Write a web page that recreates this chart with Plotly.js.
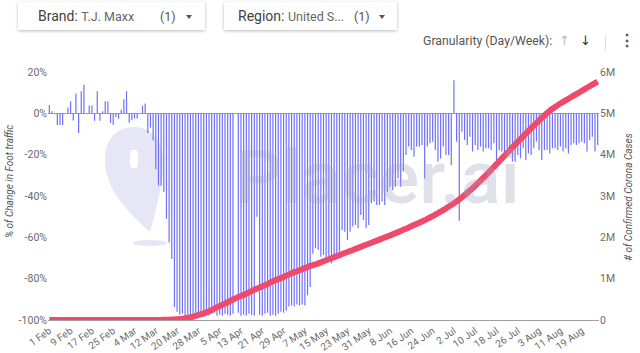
<!DOCTYPE html>
<html>
<head>
<meta charset="utf-8">
<script src="https://cdn.plot.ly/plotly-3.0.1.min.js"></script>
<style>
  html, body { margin:0; padding:0; background:#fff; width:640px; height:353px; overflow:hidden; font-family: Roboto, "Noto Sans", sans-serif; }
  #chart { position:absolute; left:0; top:0; width:640px; height:353px; }
  .box { position:absolute; top:2px; height:28px; background:#fff; box-shadow:0 1px 3px rgba(0,0,0,0.28); z-index:5; }
  .lbl { position:absolute; top:6px; font-size:14px; color:#424242; white-space:nowrap; }
  .lbl span { font-size:12.5px; color:#666; }
  .cnt { position:absolute; top:7px; font-size:12.5px; color:#555; }
  .tri { position:absolute; top:13px; width:0; height:0; border-left:3.5px solid transparent; border-right:3.5px solid transparent; border-top:4px solid #555; }
  .gran { position:absolute; top:34px; left:423px; font-size:12.3px; color:#555; z-index:5; white-space:nowrap; }
  .arr { position:absolute; top:33px; font-size:13px; font-family:"DejaVu Sans", sans-serif; z-index:5; }
  .sep { position:absolute; left:605px; top:35px; width:1px; height:16px; background:#ddd; z-index:5; }
  .dots { position:absolute; left:619px; top:31px; font-size:16px; font-weight:bold; color:#555; z-index:5; }
</style>
</head>
<body>
<div class="box" style="left:18px;width:187px;">
  <div class="lbl" style="left:20px;">Brand: <span>T.J. Maxx</span></div>
  <div class="cnt" style="left:142px;">(1)</div>
  <div class="tri" style="left:168px;"></div>
</div>
<div class="box" style="left:224px;width:173px;">
  <div class="lbl" style="left:14px;">Region: <span>United S...</span></div>
  <div class="cnt" style="left:130px;">(1)</div>
  <div class="tri" style="left:155px;"></div>
</div>
<div class="gran">Granularity (Day/Week):</div>
<div class="arr" style="left:559px;color:#bbb;">↑</div>
<div class="arr" style="left:580px;color:#333;">↓</div>
<div class="sep"></div>
<div class="dots">⋮</div>
<div id="chart"></div>
<script>
// ---- data ----
const startDate = '2020-02-01';

const footTrafficChange = [
  4, 1, 0, -5.6, -5.6, -5.6, 0, 2.8, 5.8, -3.5,
  9.6, -9.5, 10.7, 13.8, 0, 3.8, 3.8, -3.6, 10.7, -3.6,
  1, 5.8, 5.8, -4.6, -5.6, -1.8, -2.6, 1.8, 6.8, 10.7,
  -4.6, -3.4, -2.5, -2.5, 0, 3.8, 4.8, -9.5, -7, -13,
  -27, -35, -35, -38, -51, -62.5, -70.5, -93.7, -96, -97.5,
  -97, -98, -97.5, -98, -97, -96.5, -98, -97.5, -98.5, -97.5,
  -98, -97, -96.5, -98, -97.5, -98, -97, -97.5, -98, -97,
  null, -96.5, -98, -97.5, -98, -97, -97.5, -98, -50, -97.5,
  -98, -97, -96.5, -98, -97.5, -98, -97, -96, -96.5, -95.5,
  -93.5, -93, -93.5, -92.5, -93, -92.5, -93, -88, -84, -68,
  -65.3, -66, -69.4, -68.5, -71.8, -69.4, -72.6, -68.5, -67.7, -66.9,
  -56.5, -57.3, -61.3, -57.3, -54.8, -54, -55.6, -49.2, -51.6, -55.6,
  -54, -43.5, -42.7, -44.4, -44.4, -42.7, -44.4, -37.9, -35.5, -37.1,
  -35.5, -31.5, -35.5, -28.2, -20.2, -16.1, -17.7, -21, -16.1, -16.1,
  -15.3, -31.5, -16.1, -14.5, -13.7, -17.7, -23.4, -21.8, -16.1, -20.2,
  -20.2, -25, 16, -13.7, -52, -8.9, -12.9, -15.3, -11.3, -18.5,
  -15.3, -17.7, -16.1, -18.5, -16.9, -16.9, -17.7, -14.5, -22.6, -17.7,
  -18.5, -21, -16.9, -19.4, -23.4, -23.4, -20.2, -21.8, -16.9, -22.6,
  -19.4, -20.2, -16.9, -13.7, -17.7, -22.6, -17.7, -17.7, -19.4, -16.9,
  -16.9, -17.7, -16.1, -18.5, -16.9, -19.4, -15.3, -14.5, -15.3, -14.5,
  -13.7, -14.5, -18.5, -12.9, -11.3, -18.5, -15.3
];

const confirmedCases = [
  8, 8, 11, 11, 11, 12, 12, 12, 12, 12,
  12, 13, 13, 15, 15, 15, 15, 15, 15, 15,
  15, 15, 15, 35, 35, 53, 57, 60, 68, 75,
  100, 124, 158, 221, 319, 435, 541, 704, 994, 1301,
  1697, 2247, 2943, 3680, 4663, 6411, 9197, 13779, 19367, 25500,
  33300, 43800, 53700, 65800, 83800, 101700, 121500, 140900, 161800, 188200,
  213400, 243500, 275400, 308700, 336900, 366700, 396200, 429000, 461400, 496500,
  526400, 555300, 580600, 607700, 636400, 667800, 699700, 732200, 758800, 784300,
  811900, 840400, 869200, 905400, 938200, 965800, 988200, 1012600, 1039900, 1069400,
  1103500, 1132500, 1158300, 1180600, 1204400, 1228600, 1256900, 1283900, 1309500, 1329300,
  1345000, 1370000, 1395000, 1420000, 1445000, 1470000, 1495000, 1520000, 1545000, 1570000,
  1595000, 1620000, 1645000, 1670000, 1695000, 1720000, 1745000, 1770000, 1795000, 1820000,
  1845000, 1870000, 1895000, 1920000, 1945000, 1970000, 1995000, 2020000, 2046000, 2072000,
  2099000, 2126000, 2154000, 2182000, 2210000, 2239000, 2268000, 2297000, 2325000, 2354000,
  2384000, 2415000, 2447000, 2480000, 2514000, 2549000, 2585000, 2622000, 2660000, 2699000,
  2739000, 2781000, 2825000, 2871000, 2919000, 2969000, 3021000, 3075000, 3131000, 3189000,
  3249000, 3310000, 3372000, 3436000, 3501000, 3567000, 3634000, 3702000, 3770000, 3838000,
  3906000, 3974000, 4042000, 4110000, 4178000, 4245000, 4312000, 4378000, 4444000, 4509000,
  4574000, 4638000, 4702000, 4765000, 4827000, 4888000, 4948000, 5007000, 5061000, 5110000,
  5155000, 5197000, 5237000, 5276000, 5314000, 5352000, 5390000, 5428000, 5466000, 5504000,
  5542000, 5580000, 5618000, 5656000, 5694000, 5732000, 5770000
];

const tickDates = ['2020-02-01','2020-02-09','2020-02-17','2020-02-25','2020-03-04','2020-03-12','2020-03-20','2020-03-28',
  '2020-04-05','2020-04-13','2020-04-21','2020-04-29','2020-05-07','2020-05-15','2020-05-23','2020-05-31',
  '2020-06-08','2020-06-16','2020-06-24','2020-07-02','2020-07-10','2020-07-18','2020-07-26','2020-08-03','2020-08-11','2020-08-19'];
const tickLabels = ['1 Feb','9 Feb','17 Feb','25 Feb','4 Mar','12 Mar','20 Mar','28 Mar',
  '5 Apr','13 Apr','21 Apr','29 Apr','7 May','15 May','23 May','31 May',
  '8 Jun','16 Jun','24 Jun','2 Jul','10 Jul','18 Jul','26 Jul','3 Aug','11 Aug','19 Aug'];

const leftTickVals = [-100, -80, -60, -40, -20, 0, 20];
const leftTickText = ['-100%', '-80%', '-60%', '-40%', '-20%', '0%', '20%'];
const rightTickVals = [0, 1e6, 2e6, 3e6, 4e6, 5e6, 6e6];
const rightTickText = ['0', '1M', '2M', '3M', '4M', '5M', '6M'];

// consecutive day categories
const dates = [];
{
  const d0 = new Date(startDate + 'T00:00:00Z');
  for (let i = 0; i < footTrafficChange.length; i++) {
    const d = new Date(d0.getTime() + i * 86400000);
    dates.push(d.toISOString().slice(0, 10));
  }
}

// ---- decorative watermark (pixel -> paper) ----
const PL = 48, PR = 599, PT = 72, PB = 320;
function px(x) { return ((x - PL) / (PR - PL)).toFixed(4); }
function py(y) { return ((PB - y) / (PB - PT)).toFixed(4); }
function path(cmds) {
  return cmds.map(c => c[0] + ' ' + c.slice(1).map((v, k) => (k % 2 === 0 ? px(v) : py(v))).join(' ')).join(' ');
}
const pinPath = path([
  ['M', 150, 232],
  ['C', 128, 212, 105, 190, 105, 160],
  ['C', 105, 138, 118, 127, 134, 127],
  ['C', 151, 127, 163, 140, 163, 160],
  ['C', 163, 186, 156, 210, 150, 232]
]) + ' Z';
const slotPath = path([
  ['M', 130, 154],
  ['C', 130, 148, 138, 148, 138, 154],
  ['L', 138, 164],
  ['C', 138, 170, 130, 170, 130, 164]
]) + ' Z';

const shapes = [
  { type: 'path', xref: 'paper', yref: 'paper', path: pinPath, fillcolor: '#e6e6f7', line: { width: 0 }, layer: 'below' },
  { type: 'path', xref: 'paper', yref: 'paper', path: slotPath, fillcolor: '#ffffff', line: { width: 0 }, layer: 'below' },
  { type: 'circle', xref: 'paper', yref: 'paper', x0: px(133), x1: px(167), y0: py(246), y1: py(240), fillcolor: '#e6e6f7', line: { width: 0 }, layer: 'below' }
];

const traces = [
  {
    type: 'bar', x: dates, y: footTrafficChange,
    marker: { color: '#7070fb', line: { width: 0 } },
    hoverinfo: 'skip'
  },
  {
    type: 'scatter', mode: 'lines', x: dates, y: confirmedCases, yaxis: 'y2',
    line: { color: '#ef4a6b', width: 6, shape: 'spline', smoothing: 1 },
    hoverinfo: 'skip'
  }
];

const tickFont = { family: 'Roboto, sans-serif', size: 10.5, color: '#6b6b6b' };

const layout = {
  width: 640, height: 353,
  margin: { l: PL, r: 640 - PR, t: PT, b: 353 - PB, pad: 0 },
  paper_bgcolor: 'rgba(0,0,0,0)', plot_bgcolor: 'rgba(0,0,0,0)',
  showlegend: false,
  bargap: 0.55,
  xaxis: {
    type: 'date',
    range: ['2020-01-31 12:00', '2020-08-25 12:00'],
    tickvals: tickDates, ticktext: tickLabels,
    tickangle: -35, tickfont: { family: 'Roboto, sans-serif', size: 10, color: '#6b6b6b' },
    showgrid: false, zeroline: false,
    showline: true, linecolor: '#a0a0a0', linewidth: 1.3,
    ticks: '', fixedrange: true
  },
  yaxis: {
    range: [-100, 20],
    tickvals: leftTickVals, ticktext: leftTickText, tickfont: tickFont,
    showgrid: false, zeroline: true, zerolinecolor: '#a0a0a0', zerolinewidth: 1.3,
    showline: false, ticks: '', fixedrange: true
  },
  yaxis2: {
    overlaying: 'y', side: 'right',
    range: [0, 6e6],
    tickvals: rightTickVals, ticktext: rightTickText, tickfont: tickFont,
    showgrid: false, zeroline: false, showline: false, ticks: '', fixedrange: true
  },
  shapes: shapes,
  annotations: [
    {
      xref: 'paper', yref: 'paper', x: px(10), y: py(181), text: '% of Change in Foot traffic',
      textangle: -90, showarrow: false, xanchor: 'center', yanchor: 'middle',
      font: { family: 'Roboto, sans-serif', size: 10, color: '#555', style: 'italic' }
    },
    {
      xref: 'paper', yref: 'paper', x: px(629), y: py(197), text: '# of Confirmed Corona Cases',
      textangle: -90, showarrow: false, xanchor: 'center', yanchor: 'middle',
      font: { family: 'Roboto, sans-serif', size: 10, color: '#555', style: 'italic' }
    },
    {
      xref: 'paper', yref: 'paper', x: px(378), y: py(178), text: 'Placer.ai',
      showarrow: false, xanchor: 'center', yanchor: 'middle',
      font: { family: 'Roboto, sans-serif', size: 74, color: 'rgba(160,160,185,0.33)', weight: 500 }
    }
  ]
};

Plotly.newPlot('chart', traces, layout, { displayModeBar: false, staticPlot: true });
</script>
</body>
</html>
